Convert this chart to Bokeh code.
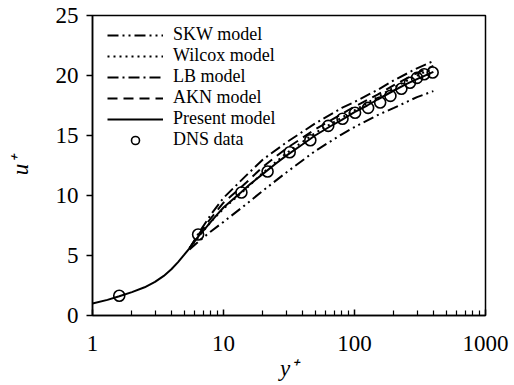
from bokeh.plotting import figure
from bokeh.models import FixedTicker, Legend, LegendItem, Range1d
from bokeh.embed import file_html
from bokeh.resources import INLINE

# DNS data
dns_y = [1.6, 6.4, 13.7, 21.7, 32, 46, 63, 81, 101, 127, 157, 188, 228, 265, 300, 340, 395]
dns_u = [1.65, 6.75, 10.25, 12.0, 13.6, 14.6, 15.8, 16.4, 16.9, 17.3, 17.75, 18.3, 18.9, 19.4, 19.8, 20.1, 20.25]

# Present model
pres_y = [1, 1.3, 1.6, 2, 2.5, 3, 3.5, 4, 4.5, 5, 5.5, 6, 6.5, 7, 8, 9, 10, 12, 13.7, 16, 20, 25, 30, 40, 50, 65, 80, 100, 125, 150, 200, 250, 300, 400]
pres_u = [1.0, 1.3, 1.6, 1.95, 2.35, 2.8, 3.3, 3.85, 4.45, 5.05, 5.6, 6.15, 6.65, 7.05, 7.8, 8.45, 9.0, 9.75, 10.3, 10.95, 11.8, 12.65, 13.3, 14.25, 15.0, 15.75, 16.3, 16.95, 17.5, 18.0, 18.75, 19.3, 19.7, 20.3]

model_y = [5.5, 6.5, 8, 10, 15, 20, 30, 50, 80, 100, 150, 200, 300, 400]
skw_u = [5.5, 6.2, 7.0, 7.8, 9.3, 10.4, 11.9, 13.7, 15.1, 15.7, 16.7, 17.3, 18.2, 18.7]
wilcox_u = [5.6, 6.6, 7.8, 8.9, 10.6, 11.9, 13.5, 15.2, 16.5, 17.1, 18.2, 19.0, 20.0, 20.6]
lb_u = [5.6, 6.9, 8.4, 9.8, 11.7, 13.0, 14.4, 16.0, 17.3, 17.8, 18.8, 19.6, 20.6, 21.2]
akn_u = [5.6, 6.8, 8.1, 9.4, 11.1, 12.4, 13.9, 15.5, 16.8, 17.4, 18.4, 19.2, 20.2, 20.8]

x_ticks = [1, 10, 100, 1000]
y_ticks = [0, 5, 10, 15, 20, 25]

FONT = "Liberation Serif"

p = figure(width=514, height=385, x_axis_type="log", output_backend="svg",
           toolbar_location=None, x_range=Range1d(1, 1000), y_range=Range1d(0, 25),
           min_border_left=92, min_border_right=29, min_border_top=15, min_border_bottom=70)
p.xgrid.visible = False
p.ygrid.visible = False
p.outline_line_color = "black"
p.outline_line_width = 1.5
p.background_fill_color = "white"
p.border_fill_color = "white"

minor = [m * d for d in [1, 10, 100] for m in range(2, 10)]
p.xaxis.ticker = FixedTicker(ticks=x_ticks, minor_ticks=minor)
p.xaxis.major_label_overrides = {t: str(t) for t in x_ticks}
p.yaxis.ticker = FixedTicker(ticks=y_ticks)

for ax in (p.xaxis[0], p.yaxis[0]):
    ax.axis_line_width = 1.5
    ax.axis_line_color = "black"
    ax.major_tick_line_width = 1.5
    ax.minor_tick_line_width = 1.2
    ax.major_label_text_font = FONT
    ax.major_label_text_font_size = "23px"
    ax.major_label_text_color = "black"
    ax.axis_label_text_font = FONT
    ax.axis_label_text_font_size = "23px"
    ax.axis_label_text_font_style = "italic"
    ax.axis_label_text_color = "black"

p.xaxis.major_tick_in = 6
p.xaxis.major_tick_out = 0
p.xaxis.minor_tick_in = 5
p.xaxis.minor_tick_out = 0
p.xaxis.major_label_standoff = 20
p.xaxis.axis_label = "y⁺"
p.xaxis.axis_label_standoff = 2

p.yaxis.major_tick_in = 0
p.yaxis.major_tick_out = 6
p.yaxis.minor_tick_line_color = None
p.yaxis.major_label_standoff = 8
p.yaxis.axis_label = "u⁺"
p.yaxis.axis_label_standoff = 20

lw = 2
r_skw = p.line(model_y, skw_u, line_color="black", line_width=lw, line_dash="11 4 2 4 2 4")
r_wil = p.line(model_y, wilcox_u, line_color="black", line_width=lw, line_dash="2 4")
r_lb = p.line(model_y, lb_u, line_color="black", line_width=lw, line_dash="11 4 2 4")
r_akn = p.line(model_y, akn_u, line_color="black", line_width=lw, line_dash="10 6")
r_pre = p.line(pres_y, pres_u, line_color="black", line_width=lw)
r_dns = p.scatter(dns_y, dns_u, marker="circle", size=11, fill_color=None,
                  line_color="black", line_width=1.6)

legend = Legend(items=[
    LegendItem(label="SKW model", renderers=[r_skw]),
    LegendItem(label="Wilcox model", renderers=[r_wil]),
    LegendItem(label="LB model", renderers=[r_lb]),
    LegendItem(label="AKN model", renderers=[r_akn]),
    LegendItem(label="Present model", renderers=[r_pre]),
    LegendItem(label="DNS data", renderers=[r_dns]),
], location=(15, 165), orientation="vertical")
legend.padding = 0
legend.margin = 0
legend.spacing = 0
legend.glyph_width = 56
legend.glyph_height = 20
legend.label_height = 20
legend.label_standoff = 10
legend.label_text_font = FONT
legend.label_text_font_size = "18px"
legend.label_text_color = "black"
legend.border_line_color = None
legend.background_fill_alpha = 0
p.add_layout(legend)

open("out.html", "w").write(file_html(p, INLINE))
